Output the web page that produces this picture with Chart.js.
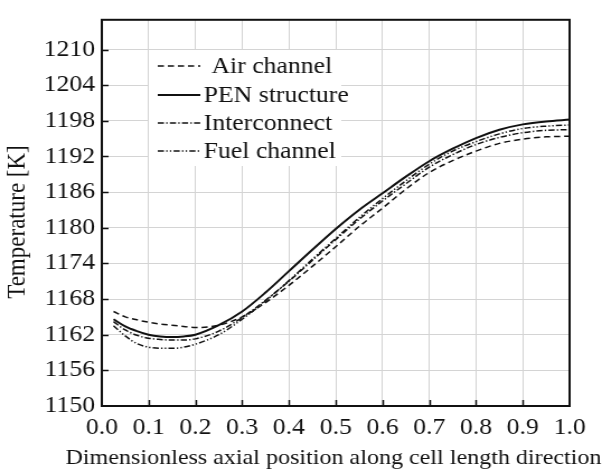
<!DOCTYPE html>
<html>
<head>
<meta charset="utf-8">
<script src="https://cdn.jsdelivr.net/npm/chart.js@4.4.1/dist/chart.umd.min.js"></script>
<style>
  html, body { margin: 0; padding: 0; background: #fff; }
  #wrap { width: 602px; height: 472px; }
  /* drawn narrow, shown wide: the figure is stretched horizontally */
  #tempChart { display: block; }
</style>
</head>
<body>
<div id="wrap"><canvas id="tempChart" width="538" height="472" style="width:602px;height:472px"></canvas></div>
<script>
// axial positions (dimensionless)
const positions = [0.025, 0.05, 0.075, 0.1, 0.125, 0.15, 0.175, 0.2, 0.25, 0.3, 0.35, 0.4,
  0.45, 0.5, 0.55, 0.6, 0.65, 0.7, 0.75, 0.8, 0.85, 0.9, 0.95, 1.0];

// temperatures [K]
const airChannel = [1165.9, 1165.0, 1164.5, 1164.1, 1163.8, 1163.6, 1163.4, 1163.2, 1163.6, 1165.0,
  1167.4, 1170.3, 1173.5, 1176.8, 1180.2, 1183.3, 1186.5, 1189.3, 1191.3, 1192.9, 1194.2, 1194.9, 1195.3, 1195.4];
const penStructure = [1164.6, 1163.4, 1162.6, 1162.0, 1161.7, 1161.6, 1161.7, 1162.0, 1163.6, 1165.9,
  1169.1, 1172.7, 1176.3, 1179.8, 1183.0, 1185.8, 1188.6, 1191.2, 1193.3, 1195.1, 1196.5, 1197.4, 1197.9, 1198.2];
const interconnect = [1164.2, 1162.8, 1161.9, 1161.4, 1161.2, 1161.1, 1161.1, 1161.3, 1162.6, 1164.9,
  1167.8, 1171.0, 1174.5, 1178.0, 1181.4, 1184.5, 1187.4, 1190.2, 1192.3, 1194.0, 1195.2, 1196.0, 1196.4, 1196.5];
const fuelChannel = [1163.5, 1161.8, 1160.5, 1159.9, 1159.7, 1159.7, 1159.9, 1160.4, 1162.0, 1164.6,
  1167.7, 1171.1, 1174.7, 1178.2, 1181.7, 1184.9, 1187.9, 1190.7, 1192.9, 1194.5, 1195.8, 1196.7, 1197.1, 1197.3];

// axis ticks
const xTicks = [0.0, 0.1, 0.2, 0.3, 0.4, 0.5, 0.6, 0.7, 0.8, 0.9, 1.0];
const yTicks = [1150, 1156, 1162, 1168, 1174, 1180, 1186, 1192, 1198, 1204, 1210];

const seriesNames = ['Air channel', 'PEN structure', 'Interconnect', 'Fuel channel'];
const yTitle = 'Temperature [K]';
const xTitle = 'Dimensionless axial position along cell length direction';
const dashStyles = [[5.5, 3.5], [], [5.5, 2, 1.3, 2], [5.5, 2, 1.3, 2, 1.3, 2]];
const lineWidths = [1.5, 2, 1.5, 1.5];

const FONT = '"Liberation Serif", "Times New Roman", serif';
const FONT_SIZE = 23;

function toPoints(values) {
  return values.map((v, i) => ({ x: positions[i], y: v }));
}

// frame, inner ticks, axis titles and legend box
const framePlugin = {
  id: 'frame',
  afterDraw(chart) {
    const { ctx, chartArea: a, scales } = chart;
    ctx.save();
    ctx.strokeStyle = '#111';
    ctx.lineWidth = 1.5;
    ctx.setLineDash([]);
    ctx.beginPath();
    xTicks.slice(1, -1).forEach((t) => {
      const px = Math.round(scales.x.getPixelForValue(t)) + 0.5;
      ctx.moveTo(px, a.bottom);
      ctx.lineTo(px, a.bottom - 6);
    });
    yTicks.slice(1).forEach((v) => {
      const py = Math.round(scales.y.getPixelForValue(v)) + 0.5;
      ctx.moveTo(a.left, py);
      ctx.lineTo(a.left + 6, py);
    });
    ctx.stroke();
    ctx.lineWidth = 2;
    ctx.strokeRect(a.left, a.top, a.right - a.left, a.bottom - a.top);

    ctx.fillStyle = '#111';
    ctx.textAlign = 'center';
    ctx.textBaseline = 'middle';

    // x axis title, allowed to run past the plot edges
    ctx.font = '21.5px ' + FONT;
    ctx.fillText(xTitle, 298, 458);

    // y axis title
    ctx.font = FONT_SIZE + 'px ' + FONT;
    ctx.save();
    ctx.translate(16, 222);
    ctx.rotate(-Math.PI / 2);
    ctx.fillText(yTitle, 0, 0);
    ctx.restore();

    // legend
    ctx.textAlign = 'left';
    ctx.fillStyle = '#fff';
    ctx.fillRect(133, 50, 172, 116);
    const rows = [66, 95, 123, 151];
    chart.data.datasets.forEach((ds, i) => {
      ctx.strokeStyle = '#111';
      ctx.lineWidth = ds.borderWidth;
      ctx.setLineDash(ds.borderDash);
      ctx.beginPath();
      ctx.moveTo(141, rows[i]);
      ctx.lineTo(179, rows[i]);
      ctx.stroke();
      ctx.setLineDash([]);
      ctx.fillStyle = '#111';
      ctx.fillText(ds.label, i === 0 ? 189 : 182, rows[i] + 1);
    });
    ctx.restore();
  }
};

const datasets = [airChannel, penStructure, interconnect, fuelChannel].map((vals, i) => ({
  label: seriesNames[i],
  data: toPoints(vals),
  borderColor: '#111',
  borderWidth: lineWidths[i],
  borderDash: dashStyles[i],
  pointRadius: 0,
  fill: false,
  cubicInterpolationMode: 'monotone'
}));

new Chart(document.getElementById('tempChart'), {
  type: 'line',
  data: { datasets },
  options: {
    responsive: false,
    animation: false,
    devicePixelRatio: 1,
    layout: { padding: { left: 0, right: 29, top: 10, bottom: 0 } },
    plugins: { legend: { display: false }, tooltip: { enabled: false } },
    scales: {
      x: {
        type: 'linear',
        min: 0,
        max: 1,
        grid: { color: '#d4d4d4', lineWidth: 1, drawTicks: false },
        border: { display: false },
        afterBuildTicks: (s) => { s.ticks = xTicks.map((v) => ({ value: v })); },
        ticks: {
          padding: 8,
          color: '#111',
          maxRotation: 0,
          autoSkip: false,
          font: { family: FONT, size: FONT_SIZE },
          callback: (v) => Number(v).toFixed(1)
        },
        title: { display: false },
        afterFit: (s) => { s.height = 66; }
      },
      y: {
        min: 1150,
        max: 1215,
        grid: { color: '#d4d4d4', lineWidth: 1, drawTicks: false },
        border: { display: false },
        afterBuildTicks: (s) => { s.ticks = yTicks.map((v) => ({ value: v })); },
        ticks: {
          padding: 6,
          color: '#111',
          autoSkip: false,
          font: { family: FONT, size: FONT_SIZE },
          callback: (v) => String(v)
        },
        title: { display: false },
        afterFit: (s) => { s.width = 91; }
      }
    }
  },
  plugins: [framePlugin]
});
</script>
</body>
</html>
